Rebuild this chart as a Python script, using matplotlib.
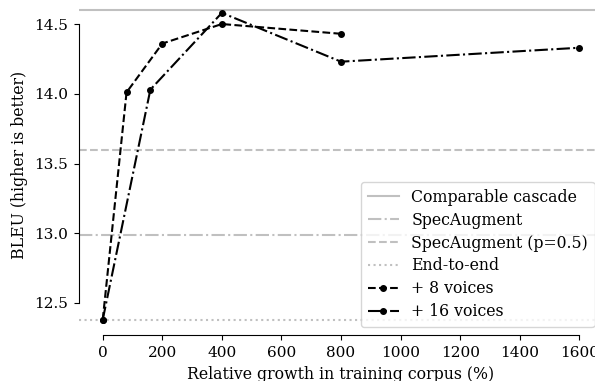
import matplotlib.pyplot as plt

plt.rcParams['font.family'] = ['DejaVu Serif']

# baselines (horizontal reference lines)
cascade = 14.60
specaug = 12.99
specaug_p05 = 13.60
end_to_end = 12.38

# augmented corpora
x_8 = [0, 80, 200, 400, 800]
bleu_8 = [12.38, 14.01, 14.36, 14.50, 14.43]
x_16 = [0, 160, 400, 800, 1600]
bleu_16 = [12.38, 14.03, 14.58, 14.23, 14.33]

fig = plt.figure(figsize=(5.95, 3.81), dpi=100)
ax = fig.add_axes([0.1326, 0.1202, 0.881, 0.894])

grey = '#c0c0c0'
ax.axhline(cascade, color=grey, ls='-', lw=1.5, label='Comparable cascade')
ax.axhline(specaug, color=grey, ls='-.', lw=1.5, label='SpecAugment')
ax.axhline(specaug_p05, color=grey, ls='--', lw=1.5, label='SpecAugment (p=0.5)')
ax.axhline(end_to_end, color=grey, ls=':', lw=1.5, label='End-to-end')
ax.plot(x_8, bleu_8, 'k--', marker='o', ms=4, lw=1.5, label='+ 8 voices')
ax.plot(x_16, bleu_16, 'k-.', marker='o', ms=4, lw=1.5, label='+ 16 voices')

ax.set_xlim(-80, 1680)
ax.set_ylim(12.269, 14.711)
ax.set_xticks(range(0, 1601, 200))
ax.set_yticks([12.5, 13.0, 13.5, 14.0, 14.5])

'''tolgo i bordi e taglio gli assi come sns.despine(trim=True)'''
ax.spines['top'].set_visible(False)
ax.spines['right'].set_visible(False)
ax.spines['left'].set_bounds(12.5, 14.5)
ax.spines['bottom'].set_bounds(0, 1600)

ax.set_xlabel('Relative growth in training corpus (%)', fontsize=11.3)
ax.set_ylabel('BLEU (higher is better)', fontsize=11.3)
ax.tick_params(labelsize=11, pad=4.5)

ax.legend(loc='lower right', bbox_to_anchor=(594.5 / 595, (381 - 326.7) / 381),
          bbox_transform=fig.transFigure, borderaxespad=0, fontsize=11.3,
          handlelength=2.0, labelspacing=0.38)

fig.savefig('out.png', dpi=100)
